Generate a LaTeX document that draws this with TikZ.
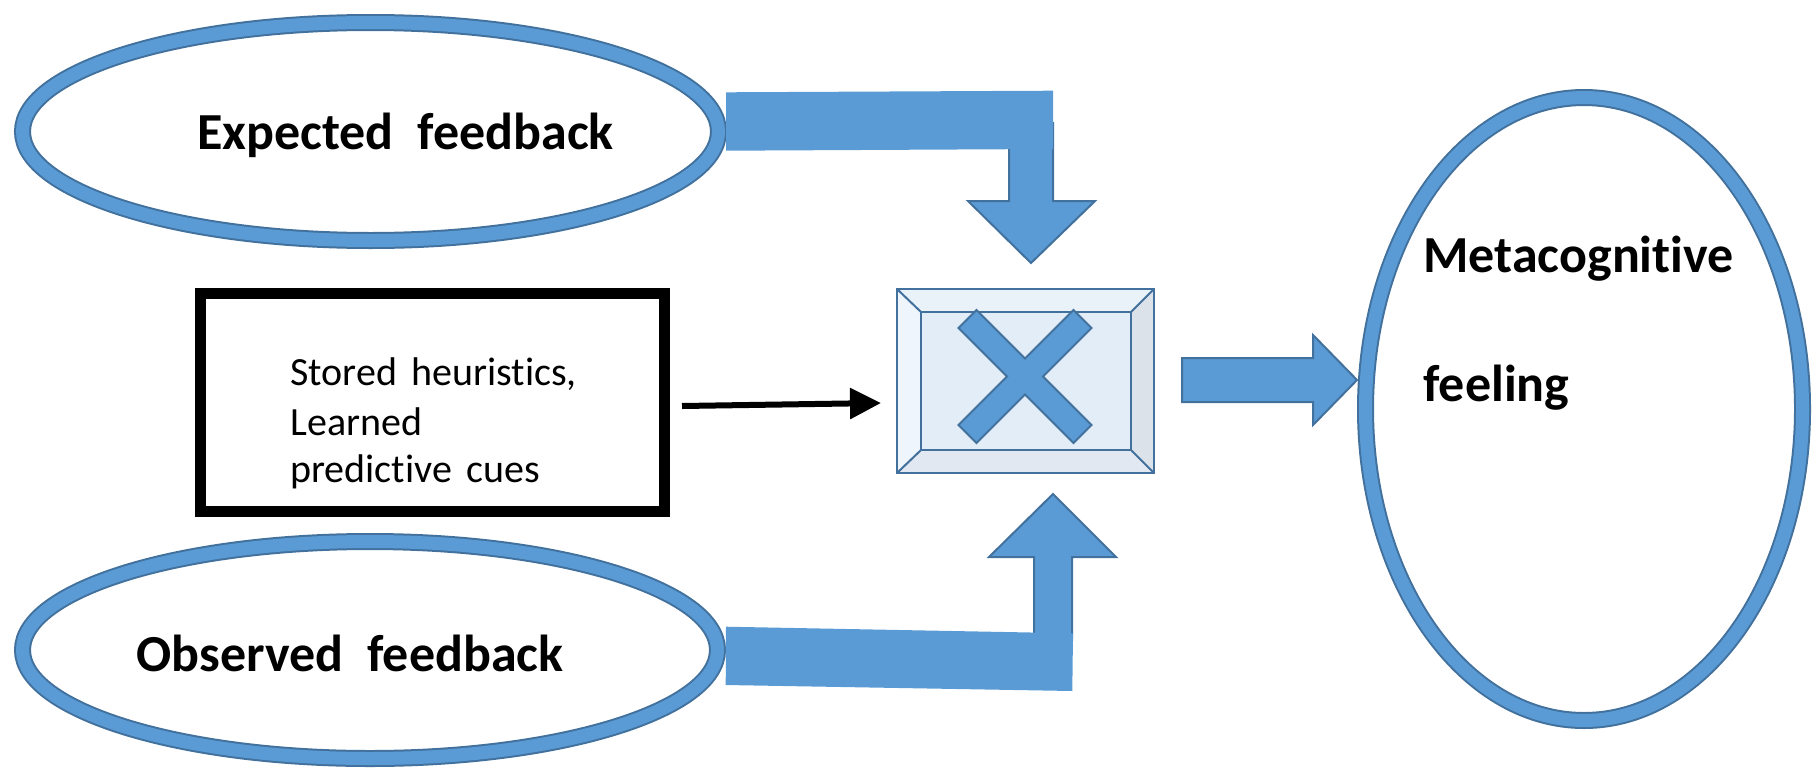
\documentclass[tikz,border=0pt]{standalone}
\usepackage{fontspec}
\setmainfont{Carlito}[Ligatures=NoCommon]
\usetikzlibrary{shapes.geometric,arrows.meta}
\definecolor{fillblue}{HTML}{5B9BD5}
\definecolor{edgeblue}{HTML}{41719C}
\definecolor{bevtop}{HTML}{E9F1F9}
\definecolor{bevleft}{HTML}{EFF5FC}
\definecolor{bevright}{HTML}{DCE2EA}
\definecolor{bevbottom}{HTML}{E1E8F1}
\definecolor{bevface}{HTML}{E3EDF8}
\newcommand{\mywidesp}{\hspace{0.46em}}
\newcommand{\mysp}{\hspace{0.36em}}
\begin{document}
\begin{tikzpicture}[x=0.5pt,y=-0.5pt,
  oval/.style={ellipse, draw=edgeblue, line width=1pt, double=fillblue, double distance=6.5pt, fill=white, inner sep=0pt},
  boldtext/.style={font=\fontsize{26}{30}\selectfont\bfseries, inner sep=0pt},
  plaintext/.style={font=\fontsize{20}{24}\selectfont, inner sep=0pt},
  blockarrow/.style={fill=fillblue, draw=edgeblue, line width=1pt, line join=miter},
  barfill/.style={fill=fillblue},
  bevelline/.style={draw=edgeblue, line width=1pt}]
\useasboundingbox (0,0) rectangle (1818,776);

% ovals
\node[oval, minimum width=348pt, minimum height=109pt] (expected) at (370.5,131.5) {};
\node[oval, minimum width=347.5pt, minimum height=108.5pt] (observed) at (370,650) {};
\node[oval, minimum width=218.5pt, minimum height=311.5pt] (meta) at (1584,409) {};

% texts of ovals
\node[boldtext, anchor=base] (exptext) at (405.5,149) {Expected\mywidesp feedback};
\node[boldtext, anchor=base] (obstext) at (350,671) {Observed\mywidesp feedback};
\node[boldtext, anchor=base west] (m1) at (1423,272.7) {Metacognitive};
\node[boldtext, anchor=base west] (m2) at (1423,401.7) {feeling};

% heuristics box
\node[draw=black, line width=5.5pt, fill=white, minimum width=232pt, minimum height=109pt, inner sep=0pt] (heur) at (432.5,402.5) {};
\node[plaintext, anchor=base west] (h1) at (290,385) {Stored\mysp heuristics,};
\node[plaintext, anchor=base west] (h2) at (290,435) {Learned};
\node[plaintext, anchor=base west] (h3) at (290,482) {predictive\mysp cues};

% comparator box (bevel)
\node[draw=edgeblue, line width=1pt, fill=bevface, minimum width=128.5pt, minimum height=92pt, inner sep=0pt] (mult) at (1025.5,381) {};
\fill[bevtop] (897,289) -- (1154,289) -- (1131,312) -- (921,312) -- cycle;
\fill[bevleft] (897,289) -- (921,312) -- (921,450) -- (897,473) -- cycle;
\fill[bevright] (1154,289) -- (1154,473) -- (1131,450) -- (1131,312) -- cycle;
\fill[bevbottom] (897,473) -- (921,450) -- (1131,450) -- (1154,473) -- cycle;
\draw[bevelline] (897,289) rectangle (1154,473);
\draw[bevelline] (921,312) rectangle (1131,450);
\draw[bevelline] (897,289) -- (921,312) (1154,289) -- (1131,312)
  (897,473) -- (921,450) (1154,473) -- (1131,450);
% the X
\draw[blockarrow] (958.5,328) -- (976.5,310) -- (1025,358.5) -- (1073.5,310) -- (1091.5,328)
  -- (1043,376.5) -- (1091.5,425) -- (1073.5,443) -- (1025,394.5) -- (976.5,443)
  -- (958.5,425) -- (1007,376.5) -- cycle;

% top bent arrow
\draw[blockarrow] (1009,123) -- (1053,123) -- (1053,201) -- (1095,201) -- (1031,263)
  -- (968,201) -- (1009,201) -- cycle;
\fill[barfill] (726,92.3) -- (1053,90.7) -- (1053,149) -- (726,150.7) -- cycle;

% bottom bent arrow
\draw[blockarrow] (1034,640) -- (1034,557) -- (989,557) -- (1053,494) -- (1116,557)
  -- (1072,557) -- (1072,640) -- cycle;
\fill[barfill] (726,626.7) -- (1073,633.3) -- (1072.3,691) -- (725.7,685) -- cycle;

% right arrow
\draw[blockarrow] (1182,358) -- (1313,358) -- (1313,335) -- (1357,380) -- (1313,425)
  -- (1313,402) -- (1182,402) -- cycle;

% black arrow
\coordinate (hs) at (682,406);
\coordinate (he) at (881,403);
\draw[line width=3pt, -{Triangle[length=15.5pt,width=15pt]}] (hs) -- (he);
\end{tikzpicture}
\end{document}
